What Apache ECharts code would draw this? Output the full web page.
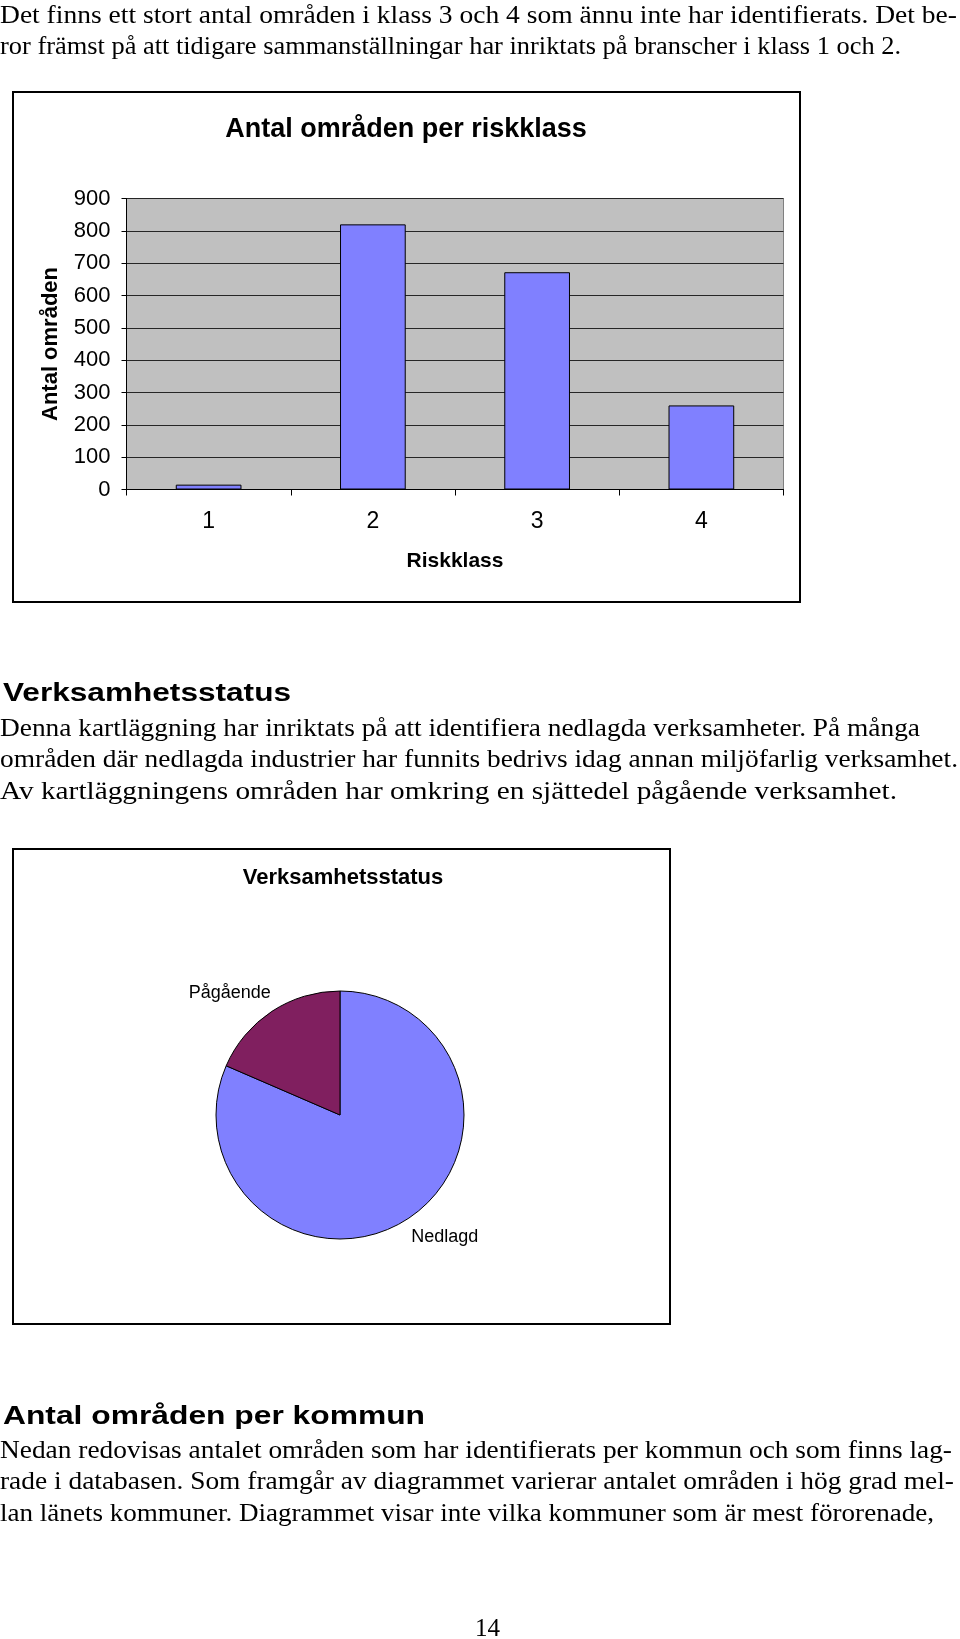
<!DOCTYPE html>
<html>
<head>
<meta charset="utf-8">
<script src="https://cdn.jsdelivr.net/npm/echarts@6/dist/echarts.min.js"></script>
<style>
  html, body { margin: 0; padding: 0; background: #fff; }
  #page { position: relative; width: 960px; height: 1639px; overflow: hidden; background: #fff; }
  #chart { position: absolute; left: 0; top: 0; width: 960px; height: 1639px; }
  .box { position: absolute; border: 2px solid #000; box-sizing: border-box; pointer-events: none; }
  .ln { position: absolute; white-space: nowrap; transform-origin: 0 50%; color: #000; }
  .serif { font-family: "Liberation Serif", "Times New Roman", serif; font-size: 26px; line-height: 26px; }
  .head { font-family: "Liberation Sans", Arial, sans-serif; font-weight: bold; font-size: 25px; line-height: 25px; }
</style>
</head>
<body>
<div id="page">
  <div class="box" style="left:12px;top:91px;width:789px;height:512px;"></div>
  <div class="box" style="left:12px;top:848px;width:659px;height:477px;"></div>
  <div id="chart"></div>
  <div id="texts"></div>
</div>
<script>
// ---- data ----
const barTitle = 'Antal områden per riskklass';
const barCategories = ['1', '2', '3', '4'];
const barValues = [15, 820, 672, 260];
const yAxisName = 'Antal områden';
const xAxisName = 'Riskklass';
const yMin = 0, yMax = 900, yStep = 100;

const pieTitle = 'Verksamhetsstatus';
const pieNames = ['Nedlagd', 'Pågående'];
const pieValues = [1440, 327];

// text lines: [text, class, x, centerY, targetWidth]
const textLines = [
  ['Det finns ett stort antal områden i klass 3 och 4 som ännu inte har identifierats. Det be-', 'serif', 0, 14.7, 957],
  ['ror främst på att tidigare sammanställningar har inriktats på branscher i klass 1 och 2.', 'serif', 0, 46.2, 901],
  ['Verksamhetsstatus', 'head', 3, 692, 288],
  ['Denna kartläggning har inriktats på att identifiera nedlagda verksamheter. På många', 'serif', 0, 728, 920],
  ['områden där nedlagda industrier har funnits bedrivs idag annan miljöfarlig verksamhet.', 'serif', 0, 759.5, 958],
  ['Av kartläggningens områden har omkring en sjättedel pågående verksamhet.', 'serif', 0, 791, 897],
  ['Antal områden per kommun', 'head', 3, 1415, 422],
  ['Nedan redovisas antalet områden som har identifierats per kommun och som finns lag-', 'serif', 0, 1450, 952],
  ['rade i databasen. Som framgår av diagrammet varierar antalet områden i hög grad mel-', 'serif', 0, 1481.5, 954],
  ['lan länets kommuner. Diagrammet visar inte vilka kommuner som är mest förorenade,', 'serif', 0, 1513, 934],
  ['14', 'serif', 475, 1628, 25]
];

// ---- text ----
const host = document.getElementById('texts');
textLines.forEach(function (t) {
  const d = document.createElement('div');
  d.className = 'ln ' + t[1];
  d.textContent = t[0];
  const capOff = t[1] === 'serif' ? 13.2 : 12.2;
  d.style.left = t[2] + 'px';
  d.style.top = (t[3] - capOff) + 'px';
  host.appendChild(d);
  const w = d.getBoundingClientRect().width;
  if (w > 0) d.style.transform = 'scaleX(' + (t[4] / w) + ')';
});

// ---- chart ----
const SANS = '"Liberation Sans", Arial, sans-serif';
const pieLabelShift = [-14, 16];
const chart = echarts.init(document.getElementById('chart'), null, { renderer: 'canvas' });
chart.setOption({
  animation: false,
  backgroundColor: 'transparent',
  title: [
    {
      text: barTitle, left: 406, top: 116, textAlign: 'center', padding: 0,
      textStyle: { fontFamily: SANS, fontWeight: 'bold', fontSize: 27, color: '#000' }
    },
    {
      text: pieTitle, left: 343, top: 867, textAlign: 'center', padding: 0,
      textStyle: { fontFamily: SANS, fontWeight: 'bold', fontSize: 22, color: '#000' }
    }
  ],
  grid: {
    left: 126.5, top: 198.5, width: 657, height: 291,
    show: true, backgroundColor: '#c0c0c0', borderColor: '#808080', borderWidth: 1,
    containLabel: false
  },
  xAxis: {
    type: 'category',
    data: barCategories,
    axisLine: { show: true, lineStyle: { color: '#000', width: 1 } },
    axisTick: { show: true, length: 6, lineStyle: { color: '#000' } },
    axisLabel: { fontFamily: SANS, fontSize: 23, color: '#000', margin: 21 },
    name: xAxisName, nameLocation: 'middle', nameGap: 61,
    nameTextStyle: { fontFamily: SANS, fontWeight: 'bold', fontSize: 21, color: '#000' }
  },
  yAxis: {
    type: 'value', min: yMin, max: yMax, interval: yStep,
    axisLine: { show: true, lineStyle: { color: '#000', width: 1 } },
    axisTick: { show: true, length: 5, lineStyle: { color: '#000' } },
    splitLine: { show: true, lineStyle: { color: '#262626', width: 1 } },
    axisLabel: { fontFamily: SANS, fontSize: 22, color: '#000', margin: 16 },
    name: yAxisName, nameLocation: 'middle', nameGap: 65, nameRotate: 90,
    nameTextStyle: { fontFamily: SANS, fontWeight: 'bold', fontSize: 22, color: '#000' }
  },
  series: [
    {
      type: 'bar',
      data: barValues,
      barWidth: '40%',
      itemStyle: { color: '#8080ff', borderColor: '#000', borderWidth: 1 }
    },
    {
      type: 'pie',
      center: [340, 1115],
      radius: 124,
      startAngle: 90,
      clockwise: true,
      avoidLabelOverlap: false,
      data: pieNames.map(function (n, i) {
        return { name: n, value: pieValues[i], itemStyle: { color: i === 0 ? '#8080ff' : '#801f5f' } };
      }),
      itemStyle: { borderColor: '#000', borderWidth: 1 },
      label: { show: true, position: 'outside', formatter: '{b}', fontFamily: SANS, fontSize: 18, color: '#000' },
      labelLine: { show: false, length: 22, length2: 0 },
      labelLayout: function (p) { return { dx: pieLabelShift[p.dataIndex] }; },
      emphasis: { disabled: true }
    }
  ]
});
</script>
</body>
</html>
